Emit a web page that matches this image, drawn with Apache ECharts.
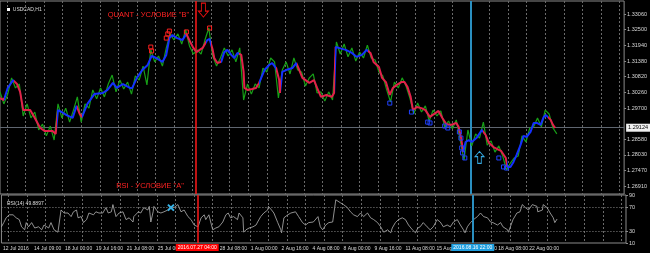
<!DOCTYPE html>
<html><head><meta charset="utf-8">
<script src="https://cdn.jsdelivr.net/npm/echarts@6/dist/echarts.min.js"></script>
<style>html,body{margin:0;padding:0;background:#000;}#c{width:650px;height:253px;}</style>
</head><body><div id="c"></div>
<script>
// ---- axis data ----
const barCount = 808;                 // hourly bars spanned by the x axis
const gridStartBar = 9, gridStepBars = 24;   // daily vertical grid
const xTickBars = [2,42,82,122,162,202,242,282,322,362,402,442,482,522,562,602,642,682];
const xTickLabels = ['12 Jul 2016','14 Jul 09:00','18 Jul 00:00','19 Jul 16:00','21 Jul 08:00','25 Jul 00:00','26 Jul 16:00','28 Jul 08:00','1 Aug 00:00','2 Aug 16:00','4 Aug 08:00','8 Aug 00:00','9 Aug 16:00','11 Aug 08:00','15 Aug 00:00','16 Aug 16:00','18 Aug 08:00','22 Aug 00:00'];
const priceTicks = [1.33060,1.32500,1.31940,1.31380,1.30820,1.30260,1.29700,1.28580,1.28030,1.27470,1.26910];
const rsiTicks = [90,70,30,10];
const rsiLevels = [70,30];
const currentPrice = 1.29124;
const redLineBar = 253, redLineLabel = '2016.07.27 04:00';
const blueLineBar = 609, blueLineLabel = '2016.08.16 22:00';

// ---- close price, sampled every 5 bars from bar 0 ----
const closeStartBar = 0, closeStepBars = 5;
const closeValues = [
1.3028,1.2985,1.3020,1.3078,1.3042,1.3056,1.2942,1.2985,1.2935,1.2956,
1.2892,1.2913,1.2871,1.2906,1.2856,1.2985,1.2935,1.2970,1.2920,1.2963,
1.3010,1.2920,1.2985,1.2970,1.3035,1.3003,1.3042,1.3010,1.3056,1.3088,
1.3028,1.3070,1.3038,1.3063,1.3020,1.3085,1.3070,1.3120,1.3053,1.3178,
1.3135,1.3156,1.3120,1.3185,1.3235,1.3213,1.3235,1.3199,1.3249,1.3192,
1.3163,1.3178,1.3163,1.3213,1.3256,1.3156,1.3120,1.3149,1.3185,1.3156,
1.3178,1.3135,1.3185,1.2999,1.3056,1.3020,1.3056,1.3042,1.3113,1.3099,
1.3149,1.3135,1.3006,1.3106,1.3135,1.3092,1.3149,1.3106,1.3099,1.3049,
1.3078,1.3092,1.3024,1.3028,1.2995,1.3028,1.2999,1.3206,1.3163,1.3199,
1.3153,1.3185,1.3138,1.3170,1.3149,1.3195,1.3149,1.3142,1.3099,1.3085,
1.3035,1.2992,1.3063,1.3042,1.3078,1.3049,1.3006,1.2949,1.2988,1.2956,
1.2978,1.2924,1.2963,1.2942,1.2960,1.2903,1.2924,1.2896,1.2928,1.2856,
1.2785,1.2892,1.2835,1.2878,1.2863,1.2920,1.2838,1.2853,1.2813,1.2835,
1.2799,1.2749,1.2774,1.2792,1.2799,1.2871,1.2849,1.2899,1.2903,1.2935,
1.2903,1.2963,1.2949,1.2899,1.2878];

// ---- moving average [bar, price] ----
const maPoints = [[0,1.3006],[5,1.2999],[10,1.3042],[17,1.3070],[22,1.3056],[26,1.3028],[30,1.2963],[39,1.2963],[45,1.2935],[52,1.2899],[58,1.2888],[68,1.2888],[72,1.2878],[75,1.2963],[80,1.2956],[86,1.2945],[94,1.2935],[99,1.2978],[103,1.2949],[106,1.2938],[113,1.2985],[122,1.3020],[133,1.3024],[139,1.3035],[146,1.3060],[151,1.3042],[159,1.3056],[168,1.3042],[171,1.3042],[177,1.3078],[184,1.3106],[191,1.3124],[196,1.3156],[202,1.3149],[210,1.3135],[215,1.3160],[219,1.3220],[223,1.3231],[229,1.3220],[236,1.3213],[241,1.3235],[246,1.3206],[250,1.3185],[254,1.3170],[262,1.3185],[268,1.3213],[271,1.3217],[275,1.3178],[277,1.3149],[281,1.3131],[286,1.3135],[290,1.3170],[294,1.3178],[299,1.3160],[303,1.3149],[307,1.3167],[312,1.3160],[315,1.3099],[316,1.3042],[320,1.3035],[326,1.3038],[331,1.3042],[335,1.3060],[342,1.3106],[348,1.3124],[352,1.3131],[357,1.3113],[361,1.3070],[362,1.3024],[365,1.3099],[370,1.3106],[378,1.3113],[383,1.3131],[387,1.3106],[391,1.3078],[400,1.3060],[406,1.3070],[410,1.3042],[415,1.3010],[422,1.3017],[429,1.3010],[432,1.3024],[434,1.3188],[438,1.3185],[447,1.3178],[455,1.3167],[461,1.3153],[468,1.3160],[474,1.3178],[479,1.3167],[483,1.3135],[490,1.3117],[494,1.3078],[499,1.3063],[504,1.3017],[508,1.3042],[513,1.3053],[519,1.3063],[523,1.3063],[527,1.3045],[531,1.3010],[534,1.2963],[539,1.2974],[545,1.2970],[550,1.2963],[556,1.2938],[559,1.2945],[563,1.2952],[567,1.2960],[572,1.2935],[577,1.2913],[583,1.2910],[590,1.2917],[593,1.2903],[596,1.2867],[599,1.2813],[602,1.2849],[606,1.2856],[610,1.2849],[616,1.2863],[623,1.2892],[628,1.2874],[632,1.2846],[638,1.2831],[645,1.2821],[648,1.2817],[654,1.2792],[656,1.2760],[660,1.2760],[664,1.2778],[668,1.2803],[673,1.2838],[677,1.2871],[681,1.2867],[686,1.2885],[690,1.2917],[694,1.2917],[699,1.2910],[703,1.2938],[706,1.2945],[712,1.2928],[715,1.2910],[718,1.2899]];
// bar ranges where the average is drawn blue (rising)
const maUpRanges = [[5,18],[74,99],[106,241],[267,273],[286,309],[335,357],[363,384],[433,476],[599,624],[655,708]];

// ---- signals ----
const sellSignals = [[195,1.3188],[196,1.3174],[215,1.3220],[217,1.3235],[219,1.3245],[241,1.3242],[271,1.3256]];
const buySignals = [[504,1.2988],[532,1.2956],[553,1.2920],[556,1.2917],[575,1.2906],[579,1.2899],[594,1.2885],[596,1.2863],[597,1.2828],[598,1.2810],[601,1.2792],[645,1.2792],[651,1.2760],[655,1.2756]];
const downArrow = [263,1.3320];
const upArrow = [620,1.2794];
const quantText = {bar:192, price:1.3302, text:'QUANT - УСЛОВИЕ "B"'};
const rsiText = {bar:194, price:1.2692, text:'RSI - УСЛОВИЕ "A"'};

// ---- RSI(14) [bar, value] ----
const rsiPoints = [[0,37],[3,44],[6,52],[10,57],[15,57],[19,52],[23,49],[26,37],[30,32],[32,44],[35,37],[39,44],[43,35],[48,37],[52,32],[55,40],[61,35],[64,44],[68,32],[73,28],[77,65],[81,60],[86,60],[90,54],[93,62],[97,65],[99,52],[103,54],[106,44],[110,49],[113,60],[119,57],[122,62],[126,60],[131,60],[135,69],[138,60],[142,62],[144,74],[148,54],[152,60],[157,62],[161,49],[165,52],[170,45],[171,54],[177,62],[180,60],[184,69],[189,65],[191,71],[193,45],[196,62],[197,71],[202,62],[206,60],[210,62],[215,65],[219,71],[223,69],[228,74],[232,62],[236,65],[241,54],[245,49],[249,40],[254,37],[258,52],[262,57],[264,49],[268,57],[273,32],[277,35],[281,37],[286,45],[290,57],[293,60],[296,52],[300,54],[305,49],[307,60],[309,57],[312,52],[313,28],[316,32],[320,35],[325,37],[329,40],[331,45],[335,54],[339,60],[344,65],[345,71],[349,65],[352,60],[357,44],[361,32],[362,27],[365,52],[370,57],[374,60],[380,62],[384,54],[389,44],[393,40],[397,44],[403,45],[409,54],[412,37],[415,32],[419,40],[423,44],[428,45],[429,44],[432,82],[434,79],[438,77],[442,74],[447,69],[451,62],[455,57],[460,54],[464,60],[468,54],[473,60],[477,52],[481,49],[486,44],[490,37],[494,28],[499,32],[503,27],[505,35],[509,44],[513,49],[518,52],[522,49],[526,40],[531,32],[535,27],[538,35],[541,37],[545,44],[550,37],[554,32],[558,37],[563,49],[567,45],[571,37],[576,40],[580,37],[584,45],[589,49],[593,40],[597,32],[599,27],[602,37],[606,44],[610,49],[615,54],[619,60],[621,62],[623,54],[628,52],[632,45],[635,44],[641,40],[645,44],[648,37],[654,32],[655,28],[657,35],[661,49],[666,60],[670,62],[673,74],[677,69],[681,65],[686,74],[687,77],[692,71],[693,62],[699,65],[700,74],[705,69],[709,60],[713,52],[715,44],[718,50]];
const rsiMarker = [219,69];

// ---- build ----
const chart = echarts.init(document.getElementById('c'), null, {renderer:'canvas'});
const categories = Array.from({length: barCount}, (_, i) => String(i));
const labelMap = {};
xTickBars.forEach((b, i) => { labelMap[String(b)] = xTickLabels[i]; });
const isGridBar = (i) => i >= gridStartBar && (i - gridStartBar) % gridStepBars === 0;
const font = '"Liberation Sans", Arial, sans-serif';
const frame = '#8a8a8a';
const gridDash = {color:'#6a6a6a', type:[2,2], width:1};
const closeData = closeValues.map((v, i) => [closeStartBar + i * closeStepBars, v]);
const hollowDown = 'path://M3,0 L7,0 L7,8 L10,8 L5,14 L0,8 L3,8 Z';
const hollowUp = 'path://M3,14 L7,14 L7,6 L10,6 L5,0 L0,6 L3,6 Z';
const crossPath = 'path://M0,0 L10,10 M10,0 L0,10';

const option = {
  backgroundColor:'#000',
  animation:false,
  textStyle:{fontFamily:font},
  title:[
    {text:'{i|}  USDCAD,H1', left:2, top:2, textStyle:{color:'#dcdcdc', fontSize:5, fontWeight:'normal', fontFamily:font,
      rich:{i:{width:3, height:3, backgroundColor:'#ffffff'}}}},
    {text:'RSI(14) 49.8897', left:2, top:196, textStyle:{color:'#dcdcdc', fontSize:5, fontWeight:'normal', fontFamily:font}}
  ],
  grid:[
    {left:0, right:24, top:1, height:193, show:true, borderColor:frame, borderWidth:1, backgroundColor:'#000'},
    {left:0, right:24, top:195, height:48, show:true, borderColor:frame, borderWidth:1, backgroundColor:'#000'}
  ],
  xAxis:[
    {type:'category', gridIndex:0, data:categories, boundaryGap:false,
     axisLine:{show:false}, axisTick:{show:false}, axisLabel:{show:false},
     splitLine:{show:true, interval:(i)=>isGridBar(i), lineStyle:gridDash}},
    {type:'category', gridIndex:1, data:categories, boundaryGap:false,
     axisLine:{show:false}, axisTick:{show:false},
     axisLabel:{show:true, interval:(i)=>labelMap[String(i)] !== undefined, formatter:(v)=>labelMap[v] || '',
       align:'left', color:'#d8d8d8', fontSize:5, fontFamily:font, margin:3, hideOverlap:false},
     splitLine:{show:true, interval:(i)=>isGridBar(i), lineStyle:gridDash}}
  ],
  yAxis:[
    {type:'value', gridIndex:0, position:'right', min:1.26634, max:1.33524,
     axisLine:{show:false},
     axisTick:{show:true, customValues:priceTicks, length:2, lineStyle:{color:frame}},
     axisLabel:{show:true, customValues:priceTicks, formatter:(v)=>v.toFixed(5), color:'#d8d8d8', fontSize:5.5, fontFamily:font, margin:3},
     splitLine:{show:false}},
    {type:'value', gridIndex:1, position:'right', min:10, max:90,
     axisLine:{show:false},
     axisTick:{show:true, customValues:rsiTicks, length:2, lineStyle:{color:frame}},
     axisLabel:{show:true, customValues:rsiTicks, color:'#d8d8d8', fontSize:5.5, fontFamily:font, margin:3},
     splitLine:{show:false}}
  ],
  visualMap:[{
    type:'piecewise', show:false, seriesIndex:1, dimension:0,
    pieces: maUpRanges.map(r => ({gte:r[0], lt:r[1], color:'#1430ff'})),
    outOfRange:{color:'#e3204a'}
  }],
  series:[
    {type:'line', name:'close', xAxisIndex:0, yAxisIndex:0, data:closeData, showSymbol:false, symbol:'none',
     lineStyle:{color:'#17a017', width:1.2}, z:2,
     markLine:{silent:true, symbol:['none','none'], z:1,
       data:[
         {yAxis:currentPrice, lineStyle:{color:'#5f6670', width:1, type:'solid'},
          label:{show:true, position:'end', formatter:currentPrice.toFixed(5), color:'#000', backgroundColor:'#f0f0f0',
                 fontSize:5.5, padding:[1,2,1,2], distance:2, fontFamily:font}},
         {xAxis:redLineBar, lineStyle:{color:'#ff1a1a', width:1.5, type:'solid'}, label:{show:false}},
         {xAxis:blueLineBar, lineStyle:{color:'#2a8fc0', width:2, type:'solid'}, label:{show:false}}
       ]}},
    {type:'line', name:'ma', xAxisIndex:0, yAxisIndex:0, data:maPoints, showSymbol:false, symbol:'none',
     lineStyle:{width:2}, z:3},
    {type:'scatter', name:'sell', xAxisIndex:0, yAxisIndex:0, data:sellSignals, symbol:'rect', symbolSize:4,
     itemStyle:{color:'rgba(0,0,0,0)', borderColor:'#ff2020', borderWidth:1, opacity:1}, z:4},
    {type:'scatter', name:'buy', xAxisIndex:0, yAxisIndex:0, data:buySignals, symbol:'rect', symbolSize:4,
     itemStyle:{color:'rgba(0,0,0,0)', borderColor:'#2040ff', borderWidth:1, opacity:1}, z:4},
    {type:'scatter', name:'arrows', xAxisIndex:0, yAxisIndex:0, z:5,
     data:[
       {value:downArrow, symbol:hollowDown, symbolSize:[10,14], itemStyle:{color:'rgba(0,0,0,0)', borderColor:'#e81010', borderWidth:1, opacity:1}},
       {value:upArrow, symbol:hollowUp, symbolSize:[9,12], itemStyle:{color:'rgba(0,0,0,0)', borderColor:'#35a8e0', borderWidth:1, opacity:1}}
     ]},
    {type:'scatter', name:'notes', xAxisIndex:0, yAxisIndex:0, symbolSize:1, z:6,
     itemStyle:{color:'rgba(0,0,0,0)', opacity:1},
     label:{show:true, position:'inside', color:'#ff2222', opacity:1, fontSize:7.5, fontFamily:font},
     data:[
       {value:[quantText.bar, quantText.price], label:{formatter:quantText.text}},
       {value:[rsiText.bar, rsiText.price], label:{formatter:rsiText.text}}
     ]},
    {type:'line', name:'rsi', xAxisIndex:1, yAxisIndex:1, data:rsiPoints, showSymbol:false, symbol:'none',
     lineStyle:{color:'#b4b4b4', width:0.8}, z:3,
     markLine:{silent:true, symbol:['none','none'], z:10,
       data:[
         ...rsiLevels.map(v => ({yAxis:v, lineStyle:{color:'#8a8a8a', width:1, type:[1,2]}, label:{show:false}})),
         {xAxis:redLineBar, lineStyle:{color:'#ff1a1a', width:1.5, type:'solid'},
          label:{show:true, position:'start', formatter:redLineLabel, color:'#fff', backgroundColor:'#ff0000',
                 fontSize:5, padding:[1,2,1,2], distance:1, fontFamily:font}},
         {xAxis:blueLineBar, lineStyle:{color:'#2a8fc0', width:2, type:'solid'},
          label:{show:true, position:'start', formatter:blueLineLabel, color:'#fff', backgroundColor:'#1e9fe0',
                 fontSize:5, padding:[1,2,1,2], distance:1, fontFamily:font}}
       ]}},
    {type:'scatter', name:'rsiMark', xAxisIndex:1, yAxisIndex:1, data:[rsiMarker], symbol:crossPath, symbolSize:6,
     itemStyle:{color:'rgba(0,0,0,0)', borderColor:'#35b4ea', borderWidth:2, opacity:1}, z:5}
  ]
};
chart.setOption(option);
</script>
</body></html>
